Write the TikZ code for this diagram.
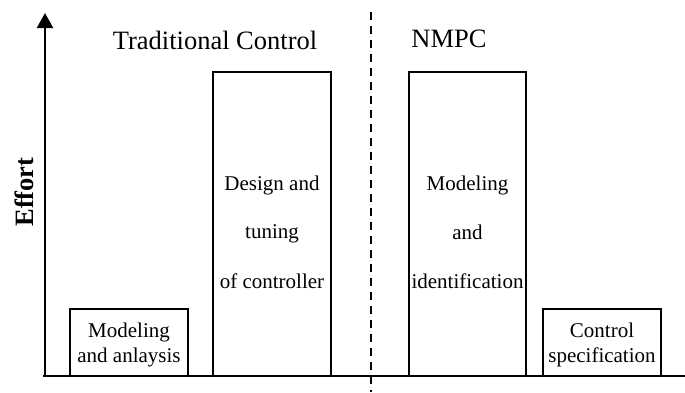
\documentclass[tikz,border=0pt]{standalone}
\usepackage{fontspec}
\setmainfont{Liberation Serif}
\usetikzlibrary{arrows.meta}

\begin{document}
\begin{tikzpicture}[x=1pt, y=-1pt,
  stagebox/.style={draw, line width=1.8pt, inner sep=0pt, minimum width=118pt},
  boxtext/.style={anchor=base, inner sep=0pt, font=\fontsize{21}{25}\selectfont},
  heading/.style={anchor=base, inner sep=0pt, font=\fontsize{26.5}{32}\selectfont},
  axisline/.style={line width=2.2pt}]
  \useasboundingbox (0,0) rectangle (685,392);

  % axes
  \coordinate (origin) at (45,376);
  \coordinate (xstart) at (43,376);
  \coordinate (xend) at (685,376);
  \coordinate (ytop) at (45,13);
  \draw[axisline] (xstart) -- (xend);
  \draw[axisline, -{Triangle[width=16pt, length=15pt]}] (origin) -- (ytop);
  \node[rotate=90, anchor=base, inner sep=0pt,
        font=\fontsize{26.5}{32}\selectfont\bfseries] (effort) at (33,192) {Effort};

  % separator between the two approaches
  \coordinate (dtop) at (371,12);
  \coordinate (dbot) at (371,392);
  \draw[line width=2.2pt, dash pattern=on 7.7pt off 6.3pt] (dtop) -- (dbot);

  % headings
  \node[heading] (trad) at (215,49) {Traditional Control};
  \node[heading] (nmpc) at (449,47) {NMPC};

  % effort bars
  \node[stagebox, minimum height=67pt] (b1) at (129,342.5) {};
  \node[stagebox, minimum height=304pt] (b2) at (272,224) {};
  \node[stagebox, minimum height=304pt, minimum width=117pt] (b3) at (467.5,224) {};
  \node[stagebox, minimum height=67pt] (b4) at (602,342.5) {};

  % bar labels
  \node[boxtext] (b1a) at (129,337) {Modeling};
  \node[boxtext] (b1b) at (129,362) {and anlaysis};

  \node[boxtext] (b2a) at (272,190) {Design and};
  \node[boxtext] (b2b) at (272,238) {tuning};
  \node[boxtext] (b2c) at (272,288) {of controller};

  \node[boxtext] (b3a) at (467.5,190) {Modeling};
  \node[boxtext] (b3b) at (467.5,239) {and};
  \node[boxtext] (b3c) at (467.5,288) {identification};

  \node[boxtext] (b4a) at (602,337) {Control};
  \node[boxtext] (b4b) at (602,362) {specification};
\end{tikzpicture}
\end{document}
